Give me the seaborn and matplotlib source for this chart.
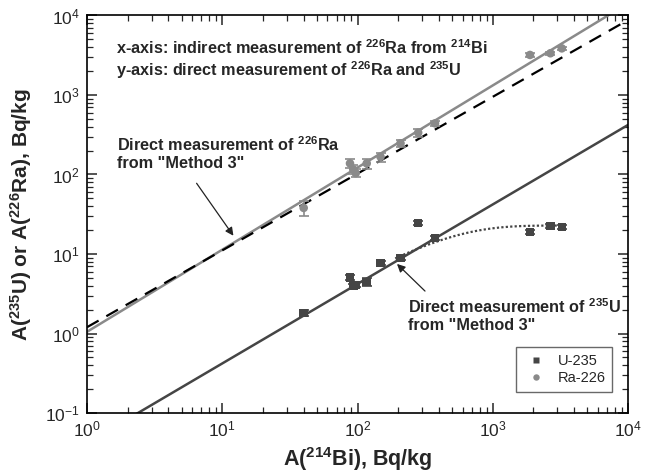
import numpy as np
import pandas as pd
import matplotlib
matplotlib.use("Agg")
import matplotlib.pyplot as plt
import seaborn as sns
from matplotlib.ticker import LogLocator, LogFormatterMathtext, NullFormatter

# Sample activities: indirect 226Ra from 214Bi (x) vs. direct 235U / 226Ra (y)
bi214 = [40, 88, 93, 97, 117, 148, 208, 281, 374, 1885, 2670, 3240]
u235 = [1.8, 5.1, 3.95, 4.1, 4.45, 7.7, 8.9, 24.5, 15.9, 18.9, 22.5, 21.9]
u235_err = [0.15, 0.4, 0.3, 0.3, 0.5, 0.5, 0.6, 1.6, 0.9, 1.2, 1.2, 1.2]
ra226 = [38, 138, 116, 104, 138, 167, 247, 336, 440, 3190, 3350, 3860]
ra226_err = [8, 18, 14, 12, 20, 22, 28, 40, 35, 160, 160, 200]

# Model lines: y = coef * x ** power
ra_fit_coef, ra_fit_pow = 1.05, 1.033
ra_m3_coef, ra_m3_pow = 1.2, 0.966
u_m3_coef, u_m3_pow = 0.042, 1.0
# Saturating 235U curve: y = u_sat * (1 - exp(-x / u_scale))
u_sat, u_scale = 22.8, 390.0
u_curve_range = (190, 3540)

sns.set_theme(style="ticks")
plt.rcParams.update({
    "font.family": ["Liberation Sans", "DejaVu Sans"],
    "mathtext.fontset": "custom",
    "mathtext.rm": "Liberation Sans",
    "mathtext.bf": "Liberation Sans:bold",
    "mathtext.it": "Liberation Sans:italic",
    "xtick.direction": "in",
    "ytick.direction": "in",
    "xtick.top": True,
    "ytick.right": True,
    "axes.linewidth": 1.2,
})

W, H = 657, 475
L, R, T, B = 87, 628, 15.5, 413
fig = plt.figure(figsize=(W / 100, H / 100), dpi=100)
ax = fig.add_axes([L / W, 1 - B / H, (R - L) / W, (B - T) / H])

u_col = "#454545"
ra_col = "#8a8a8a"

xx = np.logspace(0, 4, 200)
lines = pd.DataFrame({
    "x": xx,
    "ra_fit": ra_fit_coef * xx ** ra_fit_pow,
    "ra_m3": ra_m3_coef * xx ** ra_m3_pow,
    "u_m3": u_m3_coef * xx ** u_m3_pow,
})
sns.lineplot(data=lines, x="x", y="ra_fit", ax=ax, color=ra_col, lw=1.8)
sns.lineplot(data=lines, x="x", y="ra_m3", ax=ax, color="black", lw=1.6,
             linestyle=(0, (6, 4)))
sns.lineplot(data=lines, x="x", y="u_m3", ax=ax, color=u_col, lw=1.8)

xc = np.logspace(np.log10(u_curve_range[0]), np.log10(u_curve_range[1]), 100)
curve = pd.DataFrame({"x": xc, "y": u_sat * (1 - np.exp(-xc / u_scale))})
sns.lineplot(data=curve, x="x", y="y", ax=ax, color=u_col, lw=1.6,
             linestyle=(0, (1, 1)))

pts = pd.DataFrame({
    "x": bi214 * 2,
    "y": u235 + ra226,
    "err": u235_err + ra226_err,
    "Isotope": ["U-235"] * len(u235) + ["Ra-226"] * len(ra226),
})
for iso, col in (("U-235", u_col), ("Ra-226", ra_col)):
    sub = pts[pts.Isotope == iso]
    ax.errorbar(sub.x, sub.y, yerr=sub.err, fmt="none", ecolor=col,
                elinewidth=1.2, capsize=3.5, capthick=1.2)
sns.scatterplot(data=pts, x="x", y="y", hue="Isotope", style="Isotope",
                markers={"U-235": "s", "Ra-226": "o"},
                palette={"U-235": u_col, "Ra-226": ra_col},
                s=38, edgecolor="none", ax=ax, zorder=5)

ax.set_xscale("log")
ax.set_yscale("log")
ax.set_xlim(1, 1e4)
ax.set_ylim(0.1, 1e4)
for axis in (ax.xaxis, ax.yaxis):
    axis.set_major_locator(LogLocator(base=10, numticks=10))
    axis.set_minor_locator(LogLocator(base=10, subs=np.arange(2, 10), numticks=20))
    axis.set_major_formatter(LogFormatterMathtext())
    axis.set_minor_formatter(NullFormatter())
ax.tick_params(which="major", length=7, width=1.1, labelsize=12.5, pad=5)
ax.tick_params(which="minor", length=4, width=0.9)
for spine in ax.spines.values():
    spine.set_visible(True)
    spine.set_color("black")

ax.set_xlabel(r"A($^{\mathbf{214}}$Bi), Bq/kg", fontsize=15.5, fontweight="bold", labelpad=4)
ax.set_ylabel(r"A($^{\mathbf{235}}$U) or A($^{\mathbf{226}}$Ra), Bq/kg", fontsize=15,
              fontweight="bold", labelpad=8)

tkw = dict(fontsize=11.7, fontweight="bold", transform=ax.transAxes, va="center", ha="left")
def axfrac(px, py):
    return ((px - L) / (R - L), (B - py) / (B - T))

ax.text(*axfrac(116, 48), r"x-axis: indirect measurement of $^{\mathbf{226}}$Ra from $^{\mathbf{214}}$Bi", **tkw)
ax.text(*axfrac(116, 70), r"y-axis: direct measurement of $^{\mathbf{226}}$Ra and $^{\mathbf{235}}$U", **tkw)
ax.text(*axfrac(117, 145), r"Direct measurement of $^{\mathbf{226}}$Ra", **tkw)
ax.text(*axfrac(117, 164), 'from "Method 3"', **tkw)
ax.text(*axfrac(408, 307), r"Direct measurement of $^{\mathbf{235}}$U", **tkw)
ax.text(*axfrac(408, 326), 'from "Method 3"', **tkw)

akw = dict(arrowstyle="-|>", color="#222222", lw=0.9, mutation_scale=12)
ax.annotate("", xy=axfrac(235, 238), xytext=axfrac(195, 181),
            xycoords="axes fraction", textcoords="axes fraction", arrowprops=akw)
ax.annotate("", xy=axfrac(395, 262), xytext=axfrac(427, 293),
            xycoords="axes fraction", textcoords="axes fraction", arrowprops=akw)

leg = ax.legend(title=None, loc="lower right", bbox_to_anchor=axfrac(612, 392),
                bbox_transform=ax.transAxes, borderaxespad=0, frameon=True,
                fancybox=False, fontsize=10.5, handletextpad=0.6, borderpad=0.45,
                labelspacing=0.25, handlelength=1.8, markerscale=0.75)
leg.get_frame().set_edgecolor("#444444")
leg.get_frame().set_linewidth(1.0)

fig.savefig("out.png", dpi=100)
